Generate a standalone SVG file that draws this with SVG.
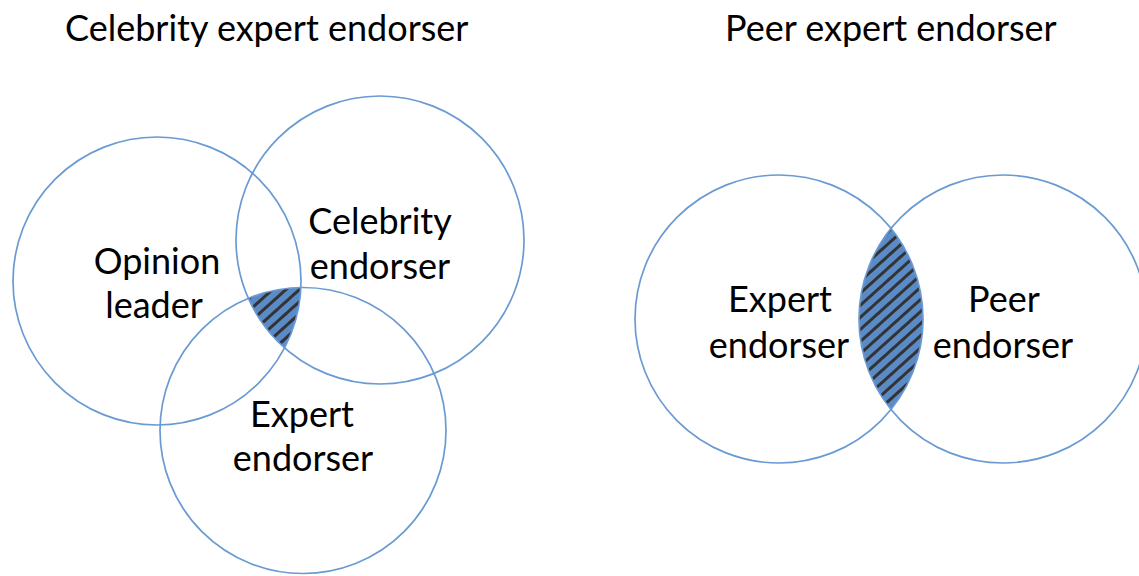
<svg xmlns="http://www.w3.org/2000/svg" width="1139" height="576" viewBox="0 0 1139 576">
<style>
.c{fill:none;stroke:#6a9ad2;stroke-width:1.7}
.t{font-family:Lato,"Liberation Sans",sans-serif;font-size:36px;fill:#000;text-anchor:middle}
.h{font-family:Lato,"Liberation Sans",sans-serif;font-size:36px;fill:#000}
</style>
<defs>
<pattern id="hatch" width="9" height="9" patternUnits="userSpaceOnUse" patternTransform="rotate(-42)">
<rect width="9" height="9" fill="#5b8bc7"/>
<rect width="9" height="3" fill="#333"/>
</pattern>
<clipPath id="clipCeleb"><circle cx="380" cy="240" r="144"/></clipPath>
<clipPath id="clipExpL"><circle cx="303" cy="430.5" r="143"/></clipPath>
<clipPath id="clipPeer"><circle cx="1003" cy="319" r="144"/></clipPath>
</defs>
<rect width="1139" height="576" fill="#fff"/>
<text class="h" x="65" y="41">Celebrity expert endorser</text>
<text class="h" x="725" y="41">Peer expert endorser</text>
<g id="overlap-left" clip-path="url(#clipCeleb)"><circle cx="157" cy="281" r="144" fill="url(#hatch)" clip-path="url(#clipExpL)"/></g>
<g id="overlap-right"><circle cx="779" cy="319" r="144" fill="url(#hatch)" clip-path="url(#clipPeer)"/></g>
<g id="opinion-leader"><circle class="c" cx="157" cy="281" r="144"/><text class="t" x="157" y="274">Opinion</text><text class="t" x="154" y="318">leader</text></g>
<g id="celebrity-endorser"><circle class="c" cx="380" cy="240" r="144"/><text class="t" x="380" y="234">Celebrity</text><text class="t" x="380" y="279">endorser</text></g>
<g id="expert-endorser-left"><circle class="c" cx="303" cy="430.5" r="143"/><text class="t" x="302" y="427">Expert</text><text class="t" x="303" y="471">endorser</text></g>
<g id="expert-endorser-right"><circle class="c" cx="779" cy="319" r="144"/><text class="t" x="780" y="312">Expert</text><text class="t" x="779" y="358">endorser</text></g>
<g id="peer-endorser"><circle class="c" cx="1003" cy="319" r="144"/><text class="t" x="1004" y="312">Peer</text><text class="t" x="1003" y="358">endorser</text></g>
<g id="connectors"/>
</svg>
